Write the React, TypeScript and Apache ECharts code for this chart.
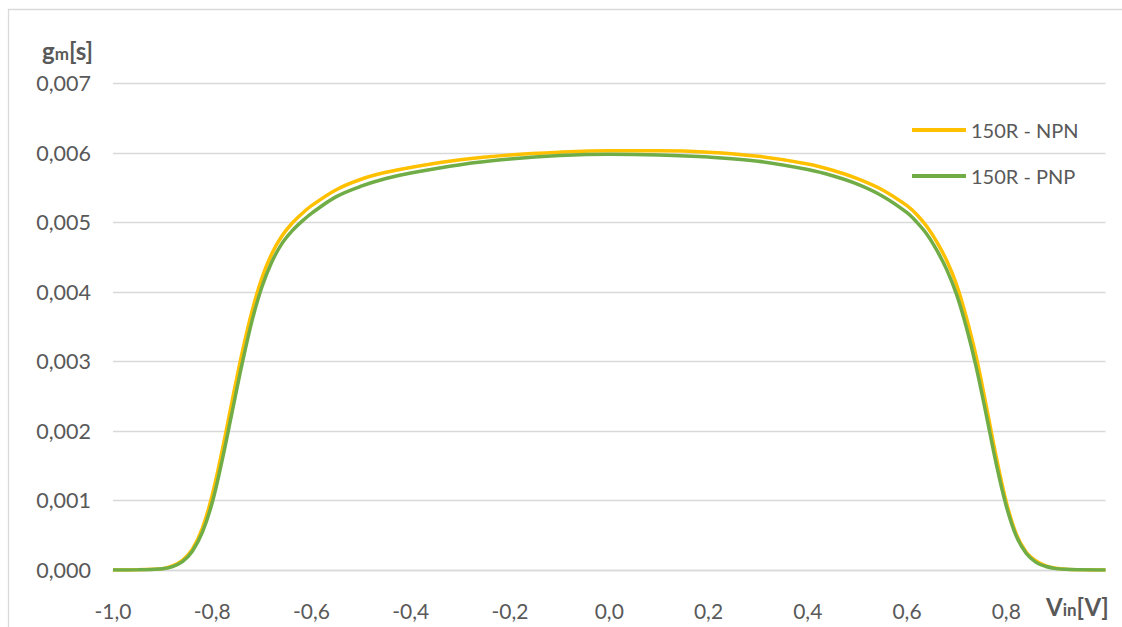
import React, { useEffect, useRef } from "react";
import * as echarts from "echarts";

const vin = [
  -1.0, -0.95, -0.92, -0.9, -0.88, -0.86, -0.84, -0.82, -0.8, -0.78, -0.76, -0.74, -0.72, -0.7,
  -0.68, -0.66, -0.64, -0.62, -0.6, -0.55, -0.5, -0.45, -0.4, -0.3, -0.2, -0.1, 0, 0.1, 0.2, 0.3,
  0.4, 0.45, 0.5, 0.55, 0.6, 0.62, 0.64, 0.66, 0.68, 0.7, 0.72, 0.74, 0.76, 0.78, 0.8, 0.82, 0.84,
  0.86, 0.88, 0.9, 0.92, 0.95, 1.0,
];

const gmNPN = [
  0.0, 0.000003, 0.00001, 0.00002, 0.00006, 0.00014, 0.0003, 0.0006, 0.00108, 0.00172, 0.00243,
  0.00312, 0.00372, 0.0042, 0.00455, 0.0048, 0.00498, 0.00512, 0.00524, 0.00547, 0.00562, 0.00572,
  0.00579, 0.0059, 0.00597, 0.00601, 0.00603, 0.00603, 0.00601, 0.00595, 0.00584, 0.00575, 0.00563,
  0.00547, 0.00524, 0.00511, 0.00494, 0.00472, 0.00445, 0.0041, 0.00362, 0.00305, 0.00235, 0.00162,
  0.00098, 0.00052, 0.00026, 0.00013, 0.00006, 0.000025, 0.00001, 0.000003, 0.0,
];

const gmPNP = [
  0.0, 0.000002, 0.000008, 0.000018, 0.00005, 0.00012, 0.00027, 0.00054, 0.00097, 0.00158, 0.00227,
  0.00296, 0.00358, 0.00407, 0.00443, 0.00469, 0.00487, 0.00501, 0.00513, 0.00537, 0.00552, 0.00563,
  0.00571, 0.00583, 0.00591, 0.00596, 0.00598, 0.00597, 0.00594, 0.00588, 0.00576, 0.00567, 0.00555,
  0.00538, 0.00514, 0.005, 0.00483, 0.0046, 0.00432, 0.00396, 0.00348, 0.0029, 0.00222, 0.00152,
  0.00092, 0.00049, 0.00024, 0.00011, 0.00005, 0.00002, 0.00001, 0.000002, 0.0,
];

const seriesNames = ["150R - NPN", "150R - PNP"];
const seriesColors = ["#FFC000", "#70AD47"];

const FONT = "Lato";
const TEXT_COLOR = "#595959";
const GRID_COLOR = "#D9D9D9";

export default function App() {
  const ref = useRef<HTMLDivElement>(null);

  useEffect(() => {
    if (!ref.current) return;
    const chart = echarts.init(ref.current, undefined, { renderer: "svg" });
    const mk = (vals: number[]) => vin.map((x, i) => [x, vals[i]]);
    const titleRich = {
      a: { fontFamily: FONT, fontSize: 24, fontWeight: "bold", fill: TEXT_COLOR, verticalAlign: "bottom", lineHeight: 24 },
      b: { fontFamily: FONT, fontSize: 17, fontWeight: "bold", fill: TEXT_COLOR, verticalAlign: "bottom", lineHeight: 18 },
    };
    chart.setOption({
      animation: false,
      backgroundColor: "#ffffff",
      grid: { left: 113, right: 16.5, top: 83.3, bottom: 57, containLabel: false },
      legend: {
        data: seriesNames,
        orient: "vertical",
        left: 912,
        top: 120,
        padding: 0,
        itemGap: 26,
        itemWidth: 54,
        itemHeight: 4,
        icon: "rect",
        textStyle: { fontFamily: FONT, fontSize: 20, color: TEXT_COLOR, lineHeight: 20 },
      },
      xAxis: {
        type: "value",
        min: -1,
        max: 1,
        interval: 0.2,
        axisLine: { show: true, lineStyle: { color: GRID_COLOR, width: 1.3 } },
        axisTick: { show: false },
        splitLine: { show: false },
        axisLabel: {
          margin: 29,
          fontFamily: FONT,
          fontSize: 21,
          lineHeight: 22,
          color: TEXT_COLOR,
          formatter: (v: number) => {
            if (v > 0.99) return "";
            const r = Math.abs(v) < 1e-9 ? 0 : v;
            return r.toFixed(1).replace(".", ",");
          },
        },
      },
      yAxis: {
        type: "value",
        min: 0,
        max: 0.007,
        interval: 0.001,
        axisLine: { show: false },
        axisTick: { show: false },
        splitLine: { show: true, lineStyle: { color: GRID_COLOR, width: 1.3 } },
        axisLabel: {
          margin: 22,
          fontFamily: FONT,
          fontSize: 21.5,
          color: TEXT_COLOR,
          formatter: (v: number) => v.toFixed(3).replace(".", ","),
        },
      },
      graphic: [
        {
          type: "rect",
          silent: true,
          shape: { x: 8.5, y: 9.5, width: 1300, height: 800 },
          style: { fill: "none", stroke: GRID_COLOR, lineWidth: 1.3 },
        },
        {
          type: "text",
          left: 42,
          top: 38,
          style: { text: "{a|g}{b|m}{a|[s]}", fill: TEXT_COLOR, rich: titleRich },
        },
        {
          type: "text",
          left: 1046,
          top: 594,
          style: { text: "{a|V}{b|in}{a|[V]}", fill: TEXT_COLOR, rich: titleRich },
        },
      ],
      series: seriesNames.map((name, i) => ({
        name,
        type: "line",
        data: mk(i === 0 ? gmNPN : gmPNP),
        showSymbol: false,
        symbol: "none",
        smooth: 0.35,
        lineStyle: { color: seriesColors[i], width: 3.5 },
        itemStyle: { color: seriesColors[i] },
      })),
    });
    return () => chart.dispose();
  }, []);

  return (
    <div
      ref={ref}
      style={{ position: "absolute", left: 0, top: 0, width: 1122, height: 627, background: "#fff" }}
    />
  );
}
